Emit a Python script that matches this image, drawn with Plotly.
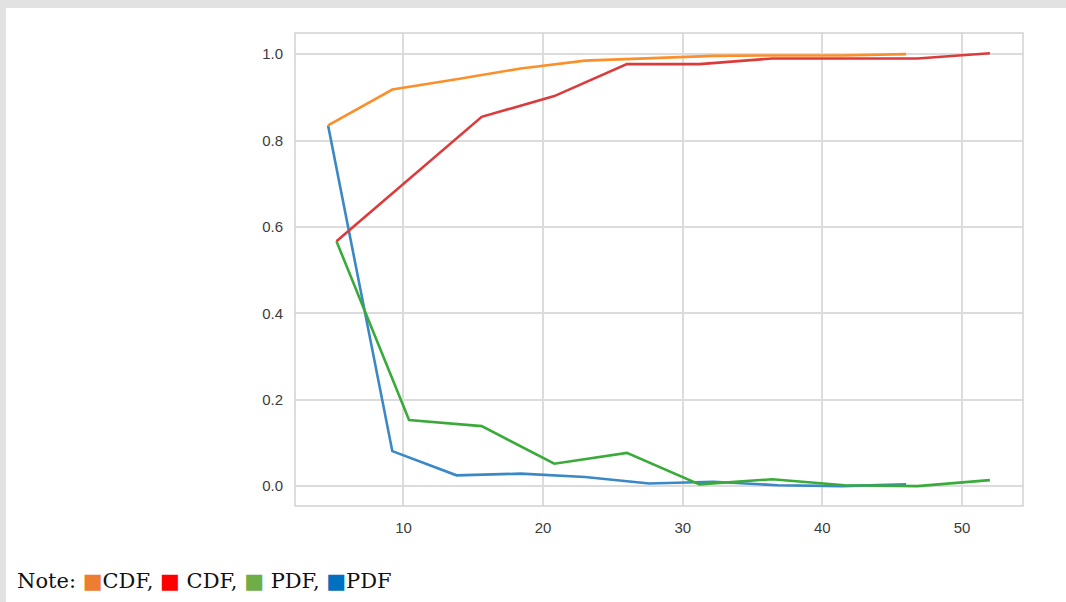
import plotly.graph_objects as go

# Series A (orange CDF / blue PDF)
x_a = [4.6, 9.2, 13.8, 18.4, 23.0, 27.6, 32.2, 36.8, 41.4, 46.0]
cdf_a = [0.835, 0.918, 0.942, 0.967, 0.985, 0.990, 0.996, 0.997, 0.997, 1.000]
pdf_a = [0.835, 0.081, 0.025, 0.029, 0.021, 0.006, 0.010, 0.002, 0.000, 0.004]

# Series B (red CDF / green PDF)
x_b = [5.2, 10.4, 15.6, 20.8, 26.0, 31.2, 36.4, 41.6, 46.8, 52.0]
cdf_b = [0.567, 0.712, 0.855, 0.903, 0.977, 0.977, 0.990, 0.990, 0.990, 1.002]
pdf_b = [0.567, 0.153, 0.139, 0.052, 0.077, 0.004, 0.016, 0.002, 0.000, 0.014]

x_ticks = [10, 20, 30, 40, 50]
y_ticks = [0.0, 0.2, 0.4, 0.6, 0.8, 1.0]

W, H = 1066, 602
L, R, T, B = 295, 1023, 33, 506

fig = go.Figure()
lw = 2.6
fig.add_trace(go.Scatter(x=x_a, y=pdf_a, mode="lines", line=dict(color="#3a88c6", width=lw), name="PDF"))
fig.add_trace(go.Scatter(x=x_b, y=pdf_b, mode="lines", line=dict(color="#3aab3a", width=lw), name="PDF"))
fig.add_trace(go.Scatter(x=x_b, y=cdf_b, mode="lines", line=dict(color="#dc3b3b", width=lw), name="CDF"))
fig.add_trace(go.Scatter(x=x_a, y=cdf_a, mode="lines", line=dict(color="#fb8f2a", width=lw), name="CDF"))

def px_to_paper_x(px):
    return (px - L) / (R - L)

def py_to_paper_y(py):
    return (B - py) / (B - T)

shapes = [
    # gray page border at top and left
    dict(type="rect", xref="paper", yref="paper",
         x0=px_to_paper_x(0), x1=px_to_paper_x(W), y0=py_to_paper_y(8), y1=py_to_paper_y(0),
         fillcolor="#e2e2e2", line=dict(width=0), layer="below"),
    dict(type="rect", xref="paper", yref="paper",
         x0=px_to_paper_x(0), x1=px_to_paper_x(6), y0=py_to_paper_y(H), y1=py_to_paper_y(0),
         fillcolor="#e2e2e2", line=dict(width=0), layer="below"),
    # axes frame
    dict(type="rect", xref="paper", yref="paper", x0=0, x1=1, y0=0, y1=1,
         line=dict(color="#d2d2d2", width=1.5), fillcolor="rgba(0,0,0,0)", layer="above"),
]

note = ("Note: <span style='color:#ED7D31'>■</span>CDF, "
        "<span style='color:#FF0000'>■</span> CDF, "
        "<span style='color:#70AD47'>■</span> PDF, "
        "<span style='color:#0070C0'>■</span>PDF")

fig.update_layout(
    width=W, height=H,
    margin=dict(l=L, r=W - R, t=T, b=H - B, pad=0),
    paper_bgcolor="white", plot_bgcolor="white",
    showlegend=False,
    shapes=shapes,
    font=dict(family="Liberation Sans, Arial, sans-serif", size=15, color="#3c3c3c"),
    xaxis=dict(range=[2.23, 54.37], tickvals=x_ticks, ticktext=[str(v) for v in x_ticks],
               showgrid=True, gridcolor="#dcdcdc", gridwidth=1.5, zeroline=False,
               showline=False, ticks="outside", ticklen=8, tickcolor="rgba(0,0,0,0)",
               tickfont=dict(size=15, color="#3c3c3c")),
    yaxis=dict(range=[-0.046, 1.049], tickvals=y_ticks, ticktext=[f"{v:.1f}" for v in y_ticks],
               showgrid=True, gridcolor="#dcdcdc", gridwidth=1.5, zeroline=False,
               showline=False, ticks="outside", ticklen=8, tickcolor="rgba(0,0,0,0)",
               tickfont=dict(size=15, color="#3c3c3c")),
    annotations=[dict(text=note, xref="paper", yref="paper",
                      x=px_to_paper_x(15), y=py_to_paper_y(581),
                      xanchor="left", yanchor="middle", showarrow=False,
                      font=dict(family="DejaVu Serif, serif", size=21, color="#111111"))],
)

fig.write_html("out.html", config={"displayModeBar": False},
               post_script="document.body.style.margin='0px';")
